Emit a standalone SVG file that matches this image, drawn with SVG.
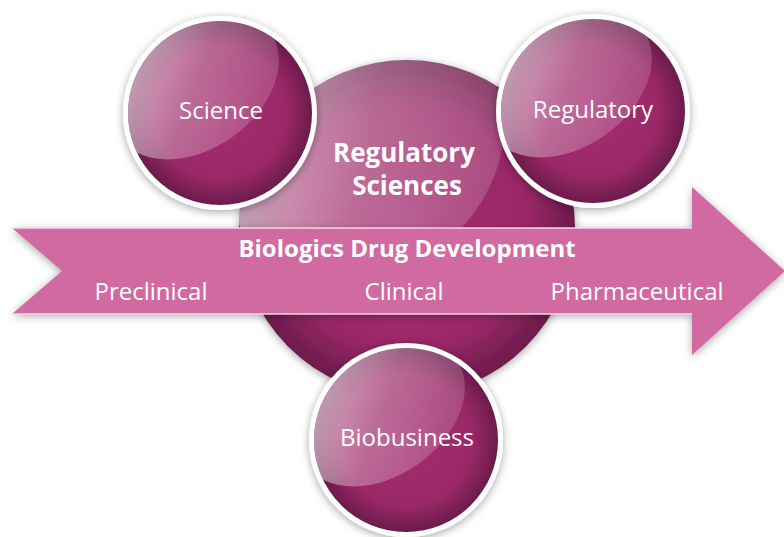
<svg xmlns="http://www.w3.org/2000/svg" xmlns:xlink="http://www.w3.org/1999/xlink" width="784" height="537" viewBox="0 0 784 537">
  <style>
    .lbl { font-family: "Open Sans", "Noto Sans", "Liberation Sans", sans-serif; fill: #FFFFFF; text-anchor: middle; }
    .reg { font-weight: 400; font-size: 24px; }
    .bold { font-weight: 700; }
  </style>
  <defs>
    <filter id="shadow" x="-20%" y="-20%" width="140%" height="140%">
      <feDropShadow dx="0" dy="2" stdDeviation="4" flood-color="#000000" flood-opacity="0.35"/>
    </filter>
    <radialGradient id="ballFill" cx="50%" cy="50%" r="50%">
      <stop offset="0" stop-color="#A42D70"/>
      <stop offset="0.72" stop-color="#9A2867"/>
      <stop offset="1" stop-color="#6C1B4B"/>
    </radialGradient>
    <linearGradient id="gloss" x1="0" y1="0" x2="1" y2="1">
      <stop offset="0" stop-color="#FFFFFF" stop-opacity="0.75"/>
      <stop offset="0.5" stop-color="#FFFFFF" stop-opacity="0.3"/>
      <stop offset="1" stop-color="#FFFFFF" stop-opacity="0.1"/>
    </linearGradient>
    <clipPath id="ballClip" clipPathUnits="userSpaceOnUse">
      <circle cx="0" cy="0" r="92"/>
    </clipPath>
    <clipPath id="bigClip" clipPathUnits="userSpaceOnUse">
      <circle cx="407" cy="228" r="168"/>
    </clipPath>
    <g id="ball">
      <circle cx="0" cy="0" r="97" fill="#FFFFFF" filter="url(#shadow)"/>
      <circle cx="0" cy="0" r="92" fill="url(#ballFill)"/>
      <g clip-path="url(#ballClip)">
        <ellipse cx="-25" cy="-28" rx="92" ry="64" transform="rotate(-35 -25 -28)" fill="url(#gloss)"/>
      </g>
    </g>
  </defs>

  <g id="regulatory-sciences">
    <circle cx="407" cy="228" r="168" fill="url(#ballFill)" filter="url(#shadow)"/>
    <g clip-path="url(#bigClip)">
      <ellipse cx="367" cy="153" rx="148" ry="120" transform="rotate(-40 367 153)" fill="url(#gloss)"/>
    </g>
    <text class="lbl bold" x="404" y="162" font-size="26">Regulatory</text>
    <text class="lbl bold" x="407" y="195" font-size="26">Sciences</text>
  </g>

  <g id="arrow">
    <polygon points="12,228 692,228 692,187 785,271 692,355 692,314 12,314 62,271" fill="#D06BA0" filter="url(#shadow)"/>
    <line x1="12" y1="228" x2="692" y2="228" stroke="#F4D9E7" stroke-width="1.5"/>
    <line x1="12" y1="314" x2="692" y2="314" stroke="#F4D9E7" stroke-width="1.5"/>
    <text class="lbl bold" x="407" y="257" font-size="24">Biologics Drug Development</text>
    <text class="lbl reg" x="151" y="300">Preclinical</text>
    <text class="lbl reg" x="404" y="300">Clinical</text>
    <text class="lbl reg" x="637" y="300">Pharmaceutical</text>
  </g>

  <g id="science">
    <use xlink:href="#ball" transform="translate(220,113)"/>
    <text class="lbl reg" x="221" y="119">Science</text>
  </g>

  <g id="regulatory">
    <use xlink:href="#ball" transform="translate(593,111)"/>
    <text class="lbl reg" x="593" y="118">Regulatory</text>
  </g>

  <g id="biobusiness">
    <use xlink:href="#ball" transform="translate(406,440)"/>
    <text class="lbl reg" x="407" y="446">Biobusiness</text>
  </g>
</svg>
